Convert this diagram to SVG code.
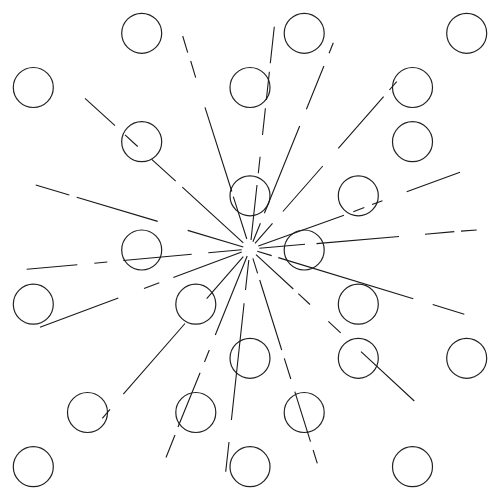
<svg xmlns="http://www.w3.org/2000/svg" width="500" height="500" viewBox="0 0 500 500">
<style>
.c{fill:none;stroke:#222;stroke-width:1.2}
.r{fill:none;stroke:#1a1a1a;stroke-width:1.1;stroke-linecap:butt}
</style>
<rect width="500" height="500" fill="#fff"/>
<g id="circles">
<circle class="c" cx="141.7" cy="33.3" r="20"/>
<circle class="c" cx="304.2" cy="33.3" r="20"/>
<circle class="c" cx="466.7" cy="33.3" r="20"/>
<circle class="c" cx="33.3" cy="87.5" r="20"/>
<circle class="c" cx="250" cy="87.5" r="20"/>
<circle class="c" cx="412.5" cy="87.5" r="20"/>
<circle class="c" cx="141.7" cy="141.7" r="20"/>
<circle class="c" cx="412.5" cy="141.7" r="20"/>
<circle class="c" cx="250" cy="195.8" r="20"/>
<circle class="c" cx="358.3" cy="195.8" r="20"/>
<circle class="c" cx="141.7" cy="250" r="20"/>
<circle class="c" cx="304.2" cy="250" r="20"/>
<circle class="c" cx="33.3" cy="304.2" r="20"/>
<circle class="c" cx="195.8" cy="304.2" r="20"/>
<circle class="c" cx="358.3" cy="304.2" r="20"/>
<circle class="c" cx="250" cy="358.3" r="20"/>
<circle class="c" cx="358.3" cy="358.3" r="20"/>
<circle class="c" cx="466.7" cy="358.3" r="20"/>
<circle class="c" cx="87.5" cy="412.5" r="20"/>
<circle class="c" cx="195.8" cy="412.5" r="20"/>
<circle class="c" cx="304.2" cy="412.5" r="20"/>
<circle class="c" cx="33.3" cy="466.7" r="20"/>
<circle class="c" cx="250" cy="466.7" r="20"/>
<circle class="c" cx="412.5" cy="466.7" r="20"/>
</g>
<g id="rays">
<path class="r" d="M182.7,36 L187.7,52.7 M190.7,61 L195.7,77.7 M205,107.3 L231.8,191.5 M233.3,196.7 L246.8,239"/>
<path class="r" d="M274.3,26.7 L270.3,63.3 M269.4,71.7 L266.3,100 M265.4,108.3 L262.5,135 M260.1,156.7 L258.3,173.3 M257,185 L251,240"/>
<path class="r" d="M333.3,42.7 L329.1,53.3 M323.9,66 L306.4,109.3 M299.7,126 L264.4,213.3 M260.4,223.3 L252.9,241.7"/>
<path class="r" d="M396.7,81.7 L389.4,90 M383.6,96.7 L338.3,148.3 M322.8,166 L282.9,211.5 M272.5,223.3 L255,243.3"/>
<path class="r" d="M460,172.3 L406.7,191.8 M382.5,200.7 L372,204.4 M364.3,207.5 L353.3,211.7 M344,215.3 L258.3,246"/>
<path class="r" d="M476.7,230 L461,231.1 M454.3,231.6 L425,234.2 M399,236.5 L316.5,243.6 M305,244.3 L259.3,248.2"/>
<path class="r" d="M257.3,251.2 L271.7,255.6 M278.3,257.6 L413.3,298.8 M432.7,304.5 L464.3,314.3"/>
<path class="r" d="M256,254.6 L293.3,289 M298.3,293.7 L310,304.5 M328.3,321.4 L340.7,332.9 M361,351.7 L414.3,401"/>
<path class="r" d="M252.9,258.3 L257.6,273.3 M259.7,280 L281.7,350 M284.3,358.3 L290.8,379 M294.8,391.7 L310.5,441.7 M313.1,450 L317.3,463.3"/>
<path class="r" d="M248.8,260 L245.5,290 M244.1,303.3 L231.4,420 M229,442 L225.7,471.7"/>
<path class="r" d="M247.2,256 L215.3,335 M209.3,350 L204.5,362 M200.1,372.7 L178,427 M175,435 L166,457.5"/>
<path class="r" d="M243.3,256.7 L206.7,298.6 M185,323.5 L123.3,394.2 M110,409.4 L102.3,418.3"/>
<path class="r" d="M241.7,252.1 L173.3,277.6 M159.3,282.8 L144,288.5 M118.3,298.1 L40,327.3"/>
<path class="r" d="M241.7,249.8 L208.3,252.8 M191.7,254.3 L123.3,260.5 M107.3,262 L94.3,263.2 M77.3,264.7 L26.7,269.3"/>
<path class="r" d="M243.3,247 L187.7,230.4 M157.7,221.4 L76.7,197.2 M69.3,195 L35.7,185"/>
<path class="r" d="M243.3,242.9 L182.3,187.2 M175.7,181.2 L151.7,159.3 M137.7,146.5 L125,134.9 M115,125.7 L85,98.4"/>
</g>
</svg>
